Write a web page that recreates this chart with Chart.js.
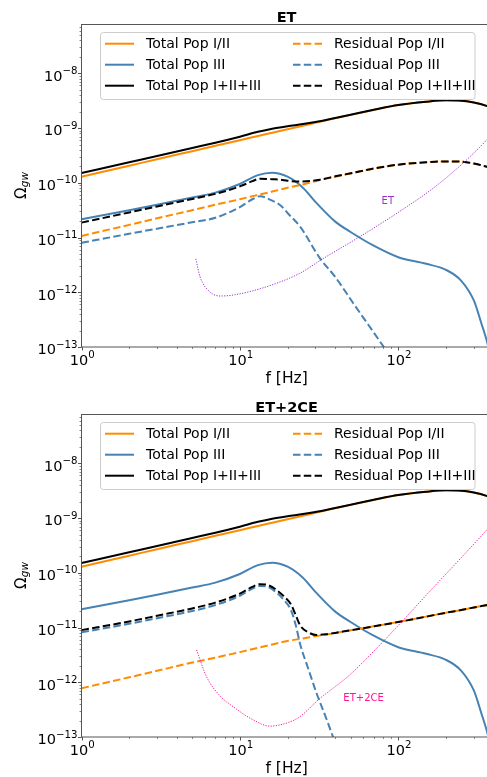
<!DOCTYPE html>
<html><head><meta charset="utf-8">
<script src="https://cdn.jsdelivr.net/npm/chart.js@4.4.1/dist/chart.umd.min.js"></script>
<style>
html,body{margin:0;padding:0;background:#fff;overflow:hidden;width:487px;height:777px}
.p{position:absolute;left:0;width:500px;height:390px}
</style></head>
<body>
<div class="p" style="top:0"><canvas id="c1" width="500" height="390"></canvas></div>
<div class="p" style="top:390px"><canvas id="c2" width="500" height="390"></canvas></div>
<script>
// ---------- DATA ----------
const X_MIN = 1, X_MAX = 389;
const Y_MIN = 1e-13, Y_MAX = 7.78e-8;
const X_MAJOR_EXP = [0, 1, 2];
const Y_MAJOR_EXP = [-13, -12, -11, -10, -9, -8];
const TITLES = ['ET', 'ET+2CE'];
const LEGEND_LABELS = ['Total Pop I/II', 'Total Pop III', 'Total Pop I+II+III',
                       'Residual Pop I/II', 'Residual Pop III', 'Residual Pop I+II+III'];
const SENS_LABELS = ['ET', 'ET+2CE'];

const FREQ_TOT = [1,2,3,5,7,10,13,16,20,25,30,40,50,70,100,150,200,250,300,365,389];
const TOTAL_POP12 = [1.29e-10,2.05e-10,2.69e-10,3.78e-10,4.73e-10,6.0e-10,7.14e-10,8.2e-10,9.5e-10,1.1e-9,1.25e-9,1.51e-9,1.74e-9,2.14e-9,2.63e-9,3.02e-9,3.2e-9,3.16e-9,2.92e-9,2.51e-9,2.34e-9];
const TOTAL_ALL = [1.505e-10,2.37e-10,3.09e-10,4.32e-10,5.39e-10,6.95e-10,8.52e-10,9.73e-10,1.08e-9,1.18e-9,1.29e-9,1.53e-9,1.75e-9,2.15e-9,2.63e-9,3.02e-9,3.2e-9,3.16e-9,2.92e-9,2.51e-9,2.34e-9];

const FREQ_P3 = [1,2,3,5,7,10,13,16,20,25,30,40,50,70,100,150,200,250,300,335,365,389];
const TOTAL_POP3 = [2.15e-11,3.16e-11,3.98e-11,5.37e-11,6.61e-11,9.5e-11,1.38e-10,1.53e-10,1.29e-10,8.13e-11,4.47e-11,1.95e-11,1.26e-11,7.08e-12,4.37e-12,3.31e-12,2.57e-12,1.62e-12,7.08e-13,2.69e-13,1.2e-13,5.6e-14];

// ET panel residuals
const ET_RES_POP12 = [1.07e-11,1.7e-11,2.24e-11,3.16e-11,3.98e-11,5.0e-11,6.0e-11,6.9e-11,8.1e-11,9.3e-11,1.07e-10,1.29e-10,1.48e-10,1.82e-10,2.14e-10,2.37e-10,2.45e-10,2.43e-10,2.24e-10,1.95e-10,1.82e-10];
const ET_FREQ_R3 = [1,2,3,5,7,10,12,13.4,16,18,20,24,32,40,52,65,82,100];
const ET_RES_POP3 = [8.0e-12,1.17e-11,1.45e-11,1.9e-11,2.29e-11,3.6e-11,5.0e-11,5.7e-11,4.7e-11,3.9e-11,2.8e-11,1.58e-11,4.2e-12,1.9e-12,6.3e-13,2.5e-13,9.5e-14,4e-14];
const ET_FREQ_RALL = [1,2,3,5,7,10,12,13.4,16,18,20,24,32,40,50,70,100,150,200,250,300,365,389];
const ET_RES_ALL = [1.87e-11,2.87e-11,3.69e-11,5.06e-11,6.27e-11,8.6e-11,1.07e-10,1.19e-10,1.16e-10,1.14e-10,1.09e-10,1.05e-10,1.14e-10,1.31e-10,1.49e-10,1.82e-10,2.14e-10,2.37e-10,2.45e-10,2.43e-10,2.24e-10,1.95e-10,1.82e-10];
const ET_SENS_FREQ = [5.27,5.6,6.45,7.5,9.07,14.7,23.9,32.9,57.3,100,166,256,362,389];
const ET_SENS = [4.07e-12,1.92e-12,1.02e-12,8.55e-13,8.9e-13,1.26e-12,2.22e-12,3.98e-12,1.04e-11,2.88e-11,7.94e-11,2.27e-10,6.05e-10,7.6e-10];

// ET+2CE panel residuals
const CE_RES_POP12 = [7.76e-13,1.23e-12,1.62e-12,2.29e-12,2.82e-12,3.55e-12,4.27e-12,4.9e-12,5.69e-12,6.31e-12,6.92e-12,7.94e-12,8.91e-12,1.05e-11,1.26e-11,1.58e-11,1.86e-11,2.09e-11,2.32e-11,2.57e-11,2.66e-11];
const CE_FREQ_R3 = [1,2,3,5,7,10,12,13.4,15,17,19,21,22.5,24,27,30.5,35,39,45];
const CE_RES_POP3 = [8.18e-12,1.17e-11,1.48e-11,2.0e-11,2.57e-11,3.8e-11,5.13e-11,5.75e-11,5.5e-11,4.37e-11,3.16e-11,2.09e-11,1.12e-11,5.0e-12,1.78e-12,6.3e-13,2.24e-13,9.5e-14,3.2e-14];
const CE_FREQ_RALL = [1,2,3,5,7,10,12,13.4,15,17,19,21,22.5,24,27,30.5,35,40,50,70,100,150,200,250,300,365,389];
const CE_RES_ALL = [8.96e-12,1.29e-11,1.64e-11,2.23e-11,2.85e-11,4.16e-11,5.54e-11,6.19e-11,5.97e-11,4.87e-11,3.69e-11,2.65e-11,1.7e-11,1.1e-11,8.2e-12,7.3e-12,7.5e-12,7.97e-12,8.91e-12,1.05e-11,1.26e-11,1.58e-11,1.86e-11,2.09e-11,2.32e-11,2.57e-11,2.66e-11];
const CE_SENS_FREQ = [5.33,6.16,7.5,9.07,12,15.5,20,23.9,31.2,49.3,73,100,166,250,362,389];
const CE_SENS = [3.89e-12,1.26e-12,5.62e-13,3.58e-13,2.09e-13,1.58e-13,1.82e-13,2.34e-13,4.74e-13,1.36e-12,4.17e-12,1.09e-11,5.33e-11,1.89e-10,6.05e-10,7.6e-10];

// annotation anchor (data coords: left/baseline of text)
const NOTE_POS = [{x: 78.5, y: 4.1e-11}, {x: 45, y: 4.6e-13}];

// ---------- STYLE ----------
const FONT = '"DejaVu Sans", sans-serif';
const C_OR = '#ff8c00', C_BL = '#4682b4', C_BK = '#000000';
const SENS_COLORS = ['#9932cc', '#ff1493'];
const DASH = [7.5, 3.3];
const AX = '#555555';

function pts(fx, vy) { return fx.map((f, i) => ({x: f, y: vy[i]})); }
function line(label, fx, vy, color, dash, width, legend) {
  return {label, data: pts(fx, vy), borderColor: color, backgroundColor: color,
    borderWidth: width, borderDash: dash, pointRadius: 0, fill: false,
    cubicInterpolationMode: 'monotone', inLegend: legend};
}

function drawPow(ctx, exp, x, baseY, align) {
  const base = '10', e = (exp < 0 ? '\u2212' : '') + Math.abs(exp);
  ctx.font = '14.5px ' + FONT; const wb = ctx.measureText(base).width;
  ctx.font = '10.2px ' + FONT; const we = ctx.measureText(e).width;
  const tot = wb + we;
  let x0 = align === 'center' ? x - tot / 2 : x - tot;
  ctx.textAlign = 'left'; ctx.textBaseline = 'alphabetic';
  ctx.font = '14.5px ' + FONT; ctx.fillText(base, x0, baseY);
  ctx.font = '10.2px ' + FONT; ctx.fillText(e, x0 + wb, baseY - 6.6);
}

const deco = {
  id: 'deco',
  afterDraw(chart, args, o) {
    const {ctx, chartArea: a} = chart; const sx = chart.scales.x, sy = chart.scales.y;
    ctx.save();
    ctx.fillStyle = '#000'; ctx.strokeStyle = AX; ctx.lineWidth = 1;
    // spines
    ctx.strokeRect(a.left, a.top, a.right - a.left, a.bottom - a.top);
    // x ticks
    for (let k = 0; k <= 2; k++) for (let m = 1; m <= 9; m++) {
      const v = m * Math.pow(10, k); if (v > X_MAX) continue;
      const px = Math.round(sx.getPixelForValue(v)) + 0.5;
      ctx.lineWidth = m === 1 ? 1 : 0.7;
      ctx.beginPath(); ctx.moveTo(px, a.bottom); ctx.lineTo(px, a.bottom + (m === 1 ? 3.5 : 2)); ctx.stroke();
    }
    for (let k = -13; k <= -8; k++) for (let m = 1; m <= 9; m++) {
      const v = m * Math.pow(10, k); if (v > Y_MAX) continue;
      const py = Math.round(sy.getPixelForValue(v)) + 0.5;
      ctx.lineWidth = m === 1 ? 1 : 0.7;
      ctx.beginPath(); ctx.moveTo(a.left, py); ctx.lineTo(a.left - (m === 1 ? 3.5 : 2), py); ctx.stroke();
    }
    // tick labels
    X_MAJOR_EXP.forEach(e => drawPow(ctx, e, sx.getPixelForValue(Math.pow(10, e)) + 0.8, a.bottom + 18, 'center'));
    Y_MAJOR_EXP.forEach(e => drawPow(ctx, e, a.left - 4, sy.getPixelForValue(Math.pow(10, e)) + 7.3, 'right'));
    // axis labels
    const cx = (a.left + a.right) / 2;
    ctx.textAlign = 'center'; ctx.textBaseline = 'alphabetic';
    ctx.font = '15.5px ' + FONT; ctx.fillText('f [Hz]', cx, a.bottom + 35.5);
    ctx.save();
    ctx.translate(25.5, (a.top + a.bottom) / 2); ctx.rotate(-Math.PI / 2);
    ctx.font = '15px ' + FONT; const wO = ctx.measureText('\u03a9').width;
    ctx.font = 'italic 10.5px ' + FONT; const wg = ctx.measureText('gw').width;
    const s0 = -(wO + wg) / 2;
    ctx.textAlign = 'left';
    ctx.font = '15px ' + FONT; ctx.fillText('\u03a9', s0, 0);
    ctx.font = 'italic 10.5px ' + FONT; ctx.fillText('gw', s0 + wO + 0.5, 2.5);
    ctx.restore();
    // title
    ctx.textAlign = 'center'; ctx.font = 'bold 14.5px ' + FONT;
    ctx.fillText(o.title, cx, a.top - 3);
    // sensitivity note
    ctx.textAlign = 'left'; ctx.font = '10px ' + FONT; ctx.fillStyle = o.noteColor;
    ctx.fillText(o.note, sx.getPixelForValue(o.notePos.x), sy.getPixelForValue(o.notePos.y));
    // legend
    ctx.fillStyle = 'rgba(255,255,255,0.8)'; ctx.strokeStyle = '#cccccc'; ctx.lineWidth = 1;
    ctx.beginPath(); ctx.roundRect(100.5, 32.5, 374.5, 67, 3); ctx.fill(); ctx.stroke();
    const items = chart.data.datasets.filter(d => d.inLegend);
    items.forEach((d, i) => {
      const col = i < 3 ? 0 : 1, row = i % 3;
      const x0 = col ? 293 : 105, yy = 43.7 + row * 21;
      ctx.strokeStyle = d.borderColor; ctx.lineWidth = d.borderWidth; ctx.setLineDash(d.borderDash);
      ctx.beginPath(); ctx.moveTo(x0, yy); ctx.lineTo(x0 + 29, yy); ctx.stroke();
      ctx.setLineDash([]);
      ctx.fillStyle = '#000'; ctx.font = '14px ' + FONT; ctx.textBaseline = 'middle';
      ctx.fillText(d.label, x0 + 41, yy + 0.5);
      ctx.textBaseline = 'alphabetic';
    });
    ctx.restore();
  }
};

function makeChart(id, p) {
  const ds = p === 0 ? [
    line(LEGEND_LABELS[0], FREQ_TOT, TOTAL_POP12, C_OR, [], 2, true),
    line(LEGEND_LABELS[1], FREQ_P3, TOTAL_POP3, C_BL, [], 2, true),
    line(LEGEND_LABELS[2], FREQ_TOT, TOTAL_ALL, C_BK, [], 2, true),
    line(LEGEND_LABELS[3], FREQ_TOT, ET_RES_POP12, C_OR, DASH, 2, true),
    line(LEGEND_LABELS[4], ET_FREQ_R3, ET_RES_POP3, C_BL, DASH, 2, true),
    line(LEGEND_LABELS[5], ET_FREQ_RALL, ET_RES_ALL, C_BK, DASH, 2, true),
    line(SENS_LABELS[0], ET_SENS_FREQ, ET_SENS, SENS_COLORS[0], [1.2, 1.4], 1, false)
  ] : [
    line(LEGEND_LABELS[0], FREQ_TOT, TOTAL_POP12, C_OR, [], 2, true),
    line(LEGEND_LABELS[1], FREQ_P3, TOTAL_POP3, C_BL, [], 2, true),
    line(LEGEND_LABELS[2], FREQ_TOT, TOTAL_ALL, C_BK, [], 2, true),
    line(LEGEND_LABELS[3], FREQ_TOT, CE_RES_POP12, C_OR, DASH, 2, true),
    line(LEGEND_LABELS[4], CE_FREQ_R3, CE_RES_POP3, C_BL, DASH, 2, true),
    line(LEGEND_LABELS[5], CE_FREQ_RALL, CE_RES_ALL, C_BK, DASH, 2, true),
    line(SENS_LABELS[1], CE_SENS_FREQ, CE_SENS, SENS_COLORS[1], [1.2, 1.4], 1, false)
  ];
  ds.forEach((d, i) => d.order = -i);
  return new Chart(document.getElementById(id), {
    type: 'line',
    data: {datasets: ds},
    options: {
      responsive: false, animation: false, devicePixelRatio: 1,
      layout: {padding: {top: 24.5, right: 8.3, left: 0, bottom: 0}},
      scales: {
        x: {type: 'logarithmic', min: X_MIN, max: X_MAX,
            ticks: {display: false}, grid: {display: false}, border: {display: false},
            afterFit(s) { s.height = 43; }},
        y: {type: 'logarithmic', min: Y_MIN, max: Y_MAX,
            ticks: {display: false}, grid: {display: false}, border: {display: false},
            afterFit(s) { s.width = 81.5; }}
      },
      plugins: {legend: {display: false}, tooltip: {enabled: false}, title: {display: false},
        deco: {title: TITLES[p], note: SENS_LABELS[p], noteColor: SENS_COLORS[p], notePos: NOTE_POS[p]}}
    },
    plugins: [deco]
  });
}
makeChart('c1', 0);
makeChart('c2', 1);
</script>
</body></html>
